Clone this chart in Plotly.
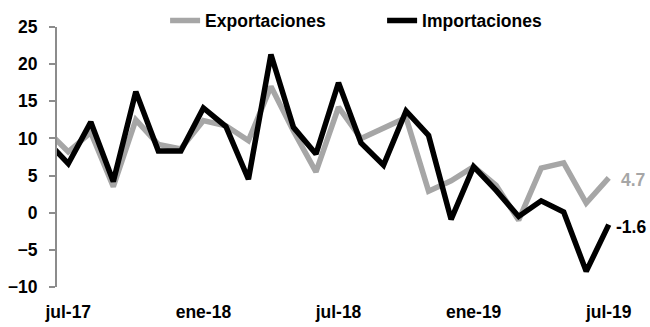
import plotly.graph_objects as go

months = ["jun-17", "jul-17", "ago-17", "sep-17", "oct-17", "nov-17", "dic-17",
          "ene-18", "feb-18", "mar-18", "abr-18", "may-18", "jun-18", "jul-18",
          "ago-18", "sep-18", "oct-18", "nov-18", "dic-18", "ene-19", "feb-19",
          "mar-19", "abr-19", "may-19", "jun-19", "jul-19"]
exportaciones = [11.2, 8.2, 10.8, 3.5, 12.5, 9.2, 8.6, 12.4, 11.7, 9.7, 17.0, 11.0, 5.5,
                 14.2, 10.0, 11.5, 12.8, 2.9, 4.3, 6.2, 3.7, -1.0, 6.0, 6.7, 1.3, 4.7]
importaciones = [9.8, 6.6, 12.2, 4.2, 16.3, 8.3, 8.3, 14.1, 11.6, 4.5, 21.3, 11.5, 7.9,
                 17.5, 9.4, 6.4, 13.7, 10.4, -0.9, 6.2, 3.0, -0.5, 1.6, 0.1, -7.9, -1.6]
tick_labels = ["jul-17", "ene-18", "jul-18", "ene-19", "jul-19"]
y_ticks = [-10, -5, 0, 5, 10, 15, 20, 25]

FONT = "Liberation Sans, Arial, sans-serif"
GRAY = "#A6A6A6"
AXIS = "#8C8C8C"
FS = 17.5
X_RANGE = [months.index(tick_labels[0]) - 0.5, len(months) - 0.5]
Y_RANGE = [-10, 25]

fig = go.Figure()
fig.add_trace(go.Scatter(
    x=months, y=exportaciones, name="Exportaciones", mode="lines",
    line=dict(color=GRAY, width=5.5),
))
fig.add_trace(go.Scatter(
    x=months, y=importaciones, name="Importaciones", mode="lines",
    line=dict(color="#000000", width=5.5),
))

# end-of-series value labels
fig.add_annotation(x=months[-1], y=exportaciones[-1], text=f"{exportaciones[-1]:.1f}",
                   showarrow=False, xanchor="left", xshift=10, yshift=-2,
                   font=dict(family=FONT, size=FS, color=GRAY, weight="bold"))
fig.add_annotation(x=months[-1], y=importaciones[-1], text=f"{importaciones[-1]:.1f}",
                   showarrow=False, xanchor="left", xshift=5, yshift=-2,
                   font=dict(family=FONT, size=FS, color="#000000", weight="bold"))

fig.update_layout(
    width=650, height=327,
    margin=dict(l=57, r=30, t=27, b=40, autoexpand=False),
    paper_bgcolor="white", plot_bgcolor="white",
    font=dict(family=FONT, size=FS, color="#000000", weight="bold"),
    showlegend=True,
    legend=dict(orientation="h", x=0.192, xanchor="left", y=1.025, yanchor="middle",
                font=dict(family=FONT, size=FS, weight="bold"),
                bgcolor="rgba(0,0,0,0)", entrywidth=172, itemwidth=30),
    xaxis=dict(
        type="category", categoryorder="array", categoryarray=months,
        range=X_RANGE, tickmode="array", tickvals=tick_labels,
        ticks="", showline=False, showgrid=False, zeroline=False,
        ticklabelstandoff=12,
        tickfont=dict(family=FONT, size=FS, weight="bold"),
    ),
    # axis crossing at zero: ticks on category boundaries, no labels
    xaxis2=dict(
        type="linear", overlaying="x", anchor="free",
        position=(0 - Y_RANGE[0]) / (Y_RANGE[1] - Y_RANGE[0]),
        range=X_RANGE, tickmode="array",
        tickvals=[months.index(t) - 0.5 for t in tick_labels],
        ticks="outside", ticklen=7, tickwidth=1.5, tickcolor=AXIS,
        showticklabels=False, showline=True, linecolor=AXIS, linewidth=2,
        showgrid=False, zeroline=False, layer="below traces",
    ),
    yaxis=dict(
        range=Y_RANGE, tickmode="array", tickvals=y_ticks,
        ticks="outside", ticklen=6, tickwidth=1.5, tickcolor=AXIS,
        showline=True, linecolor=AXIS, linewidth=2, showgrid=False,
        zeroline=False, ticklabelstandoff=8,
        tickfont=dict(family=FONT, size=FS, weight="bold"),
    ),
)

fig.write_html("out.html")
